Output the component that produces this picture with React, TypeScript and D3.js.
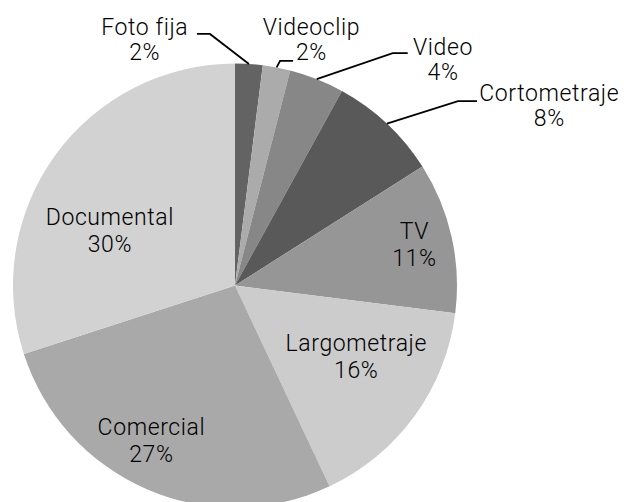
import React from "react";
import * as d3 from "d3";

const categories = ["Foto fija", "Videoclip", "Video", "Cortometraje", "TV", "Largometraje", "Comercial", "Documental"];
const values = [2, 2, 4, 8, 11, 16, 27, 30];
const percentLabels = ["2%", "2%", "4%", "8%", "11%", "16%", "27%", "30%"];
const colors = ["#636363", "#ababab", "#878787", "#595959", "#969696", "#cccccc", "#a9a9a9", "#d2d2d2"];

// label layout (not data): inside labels in polar terms relative to slice mid-angle
const insideLayout: Record<string, { rf: number; dAng: number }> = {
  TV: { rf: 0.82, dAng: 2.3 },
  Largometraje: { rf: 0.652, dAng: -2.7 },
  Comercial: { rf: 0.824, dAng: 3.9 },
  Documental: { rf: 0.604, dAng: -15.3 },
};
// callouts: elbow offset from edge point, horizontal length, text center offset, first baseline offset
const calloutLayout: Record<string, { dx: number; dy: number; hx: number; tx: number; ty: number }> = {
  "Foto fija": { dx: -39, dy: -30, hx: -13, tx: -52.5, ty: 1 },
  Videoclip: { dx: 3.5, dy: -6.5, hx: 13, tx: 18, ty: -26 },
  Video: { dx: 76, dy: -26, hx: 15, tx: 35, ty: 2 },
  Cortometraje: { dx: 71, dy: -22.6, hx: 19, tx: 72, ty: 0 },
};

const W = 626;
const H = 502;
const cx = 235;
const cy = 285.5;
const R = 222;
const FONT = "Roboto, sans-serif";
const FS = 23;
const LS = 0.6;

export default function App() {
  const data = categories.map((c, i) => ({ name: c, value: values[i], pct: percentLabels[i], color: colors[i] }));
  const pie = d3.pie<any>().value((d) => d.value).sort(null);
  const arcs = pie(data);
  const arc = d3.arc<any>().innerRadius(0).outerRadius(R);

  return (
    <svg
      width={W}
      height={H}
      style={{ position: "absolute", left: 0, top: 0, background: "#fff", fontVariantLigatures: "none" }}
      fontFamily={FONT}
      fontSize={FS}
      fontWeight={300}
      letterSpacing={LS}
    >
      <g transform={`translate(${cx},${cy})`}>
        {arcs.map((a, i) => (
          <path key={i} d={arc(a) as string} fill={a.data.color} />
        ))}
      </g>
      {arcs.map((a, i) => {
        const mid = (a.startAngle + a.endAngle) / 2;
        const name = a.data.name;
        const ins = insideLayout[name];
        if (ins) {
          const ang = mid + (ins.dAng * Math.PI) / 180;
          const x = cx + R * ins.rf * Math.sin(ang) + LS / 2;
          const y = cy - R * ins.rf * Math.cos(ang);
          return (
            <text key={i} textAnchor="middle" fill="#000">
              <tspan x={x} y={y - 13.5}>{name}</tspan>
              <tspan x={x} y={y + 13.5}>{a.data.pct}</tspan>
            </text>
          );
        }
        const co = calloutLayout[name];
        const ex = cx + R * Math.sin(mid);
        const ey = cy - R * Math.cos(mid);
        const bx = ex + co.dx;
        const by = ey + co.dy;
        const lx = bx + co.hx;
        const tx = lx + co.tx + LS / 2;
        const ty = by + co.ty;
        return (
          <g key={i}>
            <polyline points={`${ex},${ey} ${bx},${by} ${lx},${by}`} fill="none" stroke="#000" strokeWidth={1.8} />
            <text textAnchor="middle" fill="#000">
              <tspan x={tx} y={ty}>{name}</tspan>
              <tspan x={tx} y={ty + 25}>{a.data.pct}</tspan>
            </text>
          </g>
        );
      })}
    </svg>
  );
}
